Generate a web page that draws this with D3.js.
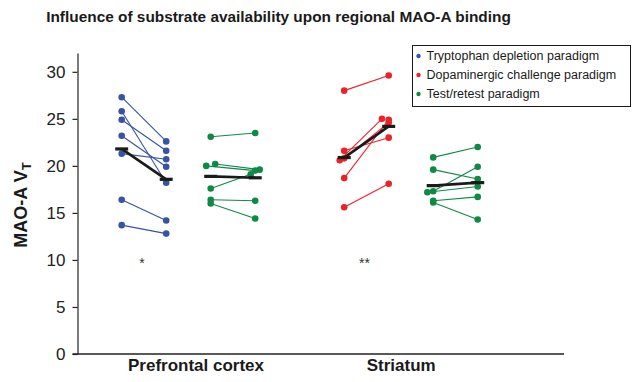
<!DOCTYPE html>
<html>
<head>
<meta charset="utf-8">
<script src="https://cdn.jsdelivr.net/npm/d3@7"></script>
<style>
  body { margin: 0; background: #fff; }
  svg { font-family: "Liberation Sans", Arial, Helvetica, sans-serif; }
</style>
</head>
<body>
<div id="chart"></div>
<script>
// --- data ---
const categories = ['Prefrontal cortex', 'Striatum']
const seriesNames = ['Tryptophan depletion paradigm', 'Dopaminergic challenge paradigm', 'Test/retest paradigm']
const yTicks = [0, 5, 10, 15, 20, 25, 30]
const significance = ['*', '**']

// tryptophan depletion, prefrontal cortex (before / after)
const trpPfcBefore = [27.3, 25.8, 24.9, 23.2, 21.3, 16.4, 13.7]
const trpPfcAfter = [22.6, 18.2, 21.6, 19.9, 20.7, 14.2, 12.8]
// test/retest, prefrontal cortex
const retestPfcBefore = [23.1, 20.0, 20.2, 17.6, 16.4, 16.0]
const retestPfcAfter = [23.5, 19.5, 19.6, 19.1, 16.3, 14.4]
// dopaminergic challenge, striatum
const dopaStrBefore = [28.0, 21.6, 20.6, 20.8, 18.7, 15.6]
const dopaStrAfter = [29.6, 23.0, 25.0, 24.6, 24.9, 18.1]
// test/retest, striatum
const retestStrBefore = [20.9, 19.6, 17.2, 17.3, 16.3, 16.1]
const retestStrAfter = [22.0, 18.6, 17.8, 19.9, 16.7, 14.3]

// overlapping points are nudged sideways by this many dodge steps
const retestPfcBeforeDodge = [0, -1, 1, 0, 0, 0]
const retestPfcAfterDodge = [0, 0, 1, -1, 0, 0]
const dopaStrBeforeDodge = [0, 0, -1, 0, 0, 0]
const dopaStrAfterDodge = [0, 0, -1.5, 0, 0, 0]
const retestStrBeforeDodge = [0, 0, -1.3, 0, 0, 0]

const colors = ['#3653a5', '#ec2227', '#0f8a45']

const groups = [
  { slot: 0, series: 0, before: trpPfcBefore, after: trpPfcAfter },
  { slot: 2, series: 2, before: retestPfcBefore, after: retestPfcAfter, dodgeBefore: retestPfcBeforeDodge, dodgeAfter: retestPfcAfterDodge },
  { slot: 5, series: 1, before: dopaStrBefore, after: dopaStrAfter, dodgeBefore: dopaStrBeforeDodge, dodgeAfter: dopaStrAfterDodge },
  { slot: 7, series: 2, before: retestStrBefore, after: retestStrAfter, dodgeBefore: retestStrBeforeDodge }
]

const width = 632
const height = 382

const svg = d3.select('#chart')
  .append('svg')
  .attr('width', width)
  .attr('height', height)

const x = d3.scaleLinear([0, 8], [121.7, 477.7])
const y = d3.scaleLinear([0, 32], [354, 53])
const dodgeStep = 4.5
const axisX = 77.5

// title
svg.append('text')
  .attr('x', 278.5)
  .attr('y', 22)
  .attr('text-anchor', 'middle')
  .style('font-size', '15.4px')
  .style('font-weight', 'bold')
  .style('fill', '#1a1a1a')
  .text('Influence of substrate availability upon regional MAO-A binding')

// y axis
const yAxis = svg.append('g')
  .attr('transform', `translate(${axisX},0)`)
  .call(d3.axisLeft(y).tickValues(yTicks).tickSize(5).tickSizeOuter(0).tickPadding(7))

yAxis.select('.domain').attr('stroke', '#222').attr('stroke-width', 1.2)
yAxis.selectAll('.tick line').attr('stroke', '#222').attr('stroke-width', 1.2)
yAxis.selectAll('.tick text')
  .style('font-size', '17px')
  .style('fill', '#222')
  .style('font-family', '"Liberation Sans", Arial, sans-serif')

// x axis baseline
svg.append('line')
  .attr('x1', axisX - 5)
  .attr('x2', 564)
  .attr('y1', y(0))
  .attr('y2', y(0))
  .attr('stroke', '#222')
  .attr('stroke-width', 1.6)

// y label
const yLabel = svg.append('text')
  .attr('transform', `translate(27,205) rotate(-90)`)
  .attr('text-anchor', 'middle')
  .style('font-size', '18px')
  .style('font-weight', 'bold')
  .style('fill', '#1a1a1a')
yLabel.append('tspan').text('MAO-A V')
yLabel.append('tspan').attr('dy', 4).style('font-size', '13px').text('T')

// category labels
const labelSlots = [1.67, 6.28]
svg.selectAll('text.category')
  .data(categories)
  .enter()
  .append('text')
  .attr('class', 'category')
  .attr('x', (d, i) => x(labelSlots[i]))
  .attr('y', 371)
  .attr('text-anchor', 'middle')
  .style('font-size', '17px')
  .style('font-weight', 'bold')
  .style('fill', '#1a1a1a')
  .text(d => d)

// paired lines and points
groups.forEach(g => {
  const color = colors[g.series]
  const pairs = g.before.map((b, i) => ({
    b,
    a: g.after[i],
    xb: x(g.slot) + (g.dodgeBefore ? g.dodgeBefore[i] : 0) * dodgeStep,
    xa: x(g.slot + 1) + (g.dodgeAfter ? g.dodgeAfter[i] : 0) * dodgeStep
  }))
  const layer = svg.append('g')

  layer.selectAll('line.pair')
    .data(pairs)
    .enter()
    .append('line')
    .attr('class', 'pair')
    .attr('x1', d => d.xb)
    .attr('x2', d => d.xa)
    .attr('y1', d => y(d.b))
    .attr('y2', d => y(d.a))
    .attr('stroke', color)
    .attr('stroke-width', 1.1)

  layer.selectAll('circle.before')
    .data(pairs)
    .enter()
    .append('circle')
    .attr('cx', d => d.xb)
    .attr('cy', d => y(d.b))
    .attr('r', 3.3)
    .attr('fill', color)

  layer.selectAll('circle.after')
    .data(pairs)
    .enter()
    .append('circle')
    .attr('cx', d => d.xa)
    .attr('cy', d => y(d.a))
    .attr('r', 3.3)
    .attr('fill', color)

  // group means
  const mb = d3.mean(g.before)
  const ma = d3.mean(g.after)
  layer.append('line')
    .attr('x1', x(g.slot))
    .attr('x2', x(g.slot + 1))
    .attr('y1', y(mb))
    .attr('y2', y(ma))
    .attr('stroke', '#1a1a1a')
    .attr('stroke-width', 2.6)
  ;[[g.slot, mb], [g.slot + 1, ma]].forEach(([s, m]) => {
    layer.append('rect')
      .attr('x', x(s) - 6.5)
      .attr('y', y(m) - 1.6)
      .attr('width', 13)
      .attr('height', 3.2)
      .attr('fill', '#1a1a1a')
  })
})

// significance marks
const sigSlots = [0.5, 5.5]
svg.selectAll('text.sig')
  .data(significance)
  .enter()
  .append('text')
  .attr('class', 'sig')
  .attr('x', (d, i) => x(sigSlots[i]) - 2)
  .attr('y', y(10) + 8)
  .attr('text-anchor', 'middle')
  .style('font-size', '14px')
  .style('fill', '#333')
  .text(d => d)

// legend
const legend = svg.append('g')
legend.append('rect')
  .attr('x', 412.5)
  .attr('y', 45.5)
  .attr('width', 218)
  .attr('height', 61)
  .attr('fill', '#fff')
  .attr('stroke', '#1a1a1a')
  .attr('stroke-width', 1)

const rows = legend.selectAll('g.row')
  .data(seriesNames)
  .enter()
  .append('g')
  .attr('transform', (d, i) => `translate(418.5,${56 + i * 19})`)
rows.append('circle')
  .attr('r', 2.2)
  .attr('fill', (d, i) => colors[i])
rows.append('text')
  .attr('x', 8)
  .attr('dy', '0.35em')
  .style('font-size', '12.5px')
  .style('fill', '#1a1a1a')
  .text(d => d)
</script>
</body>
</html>
